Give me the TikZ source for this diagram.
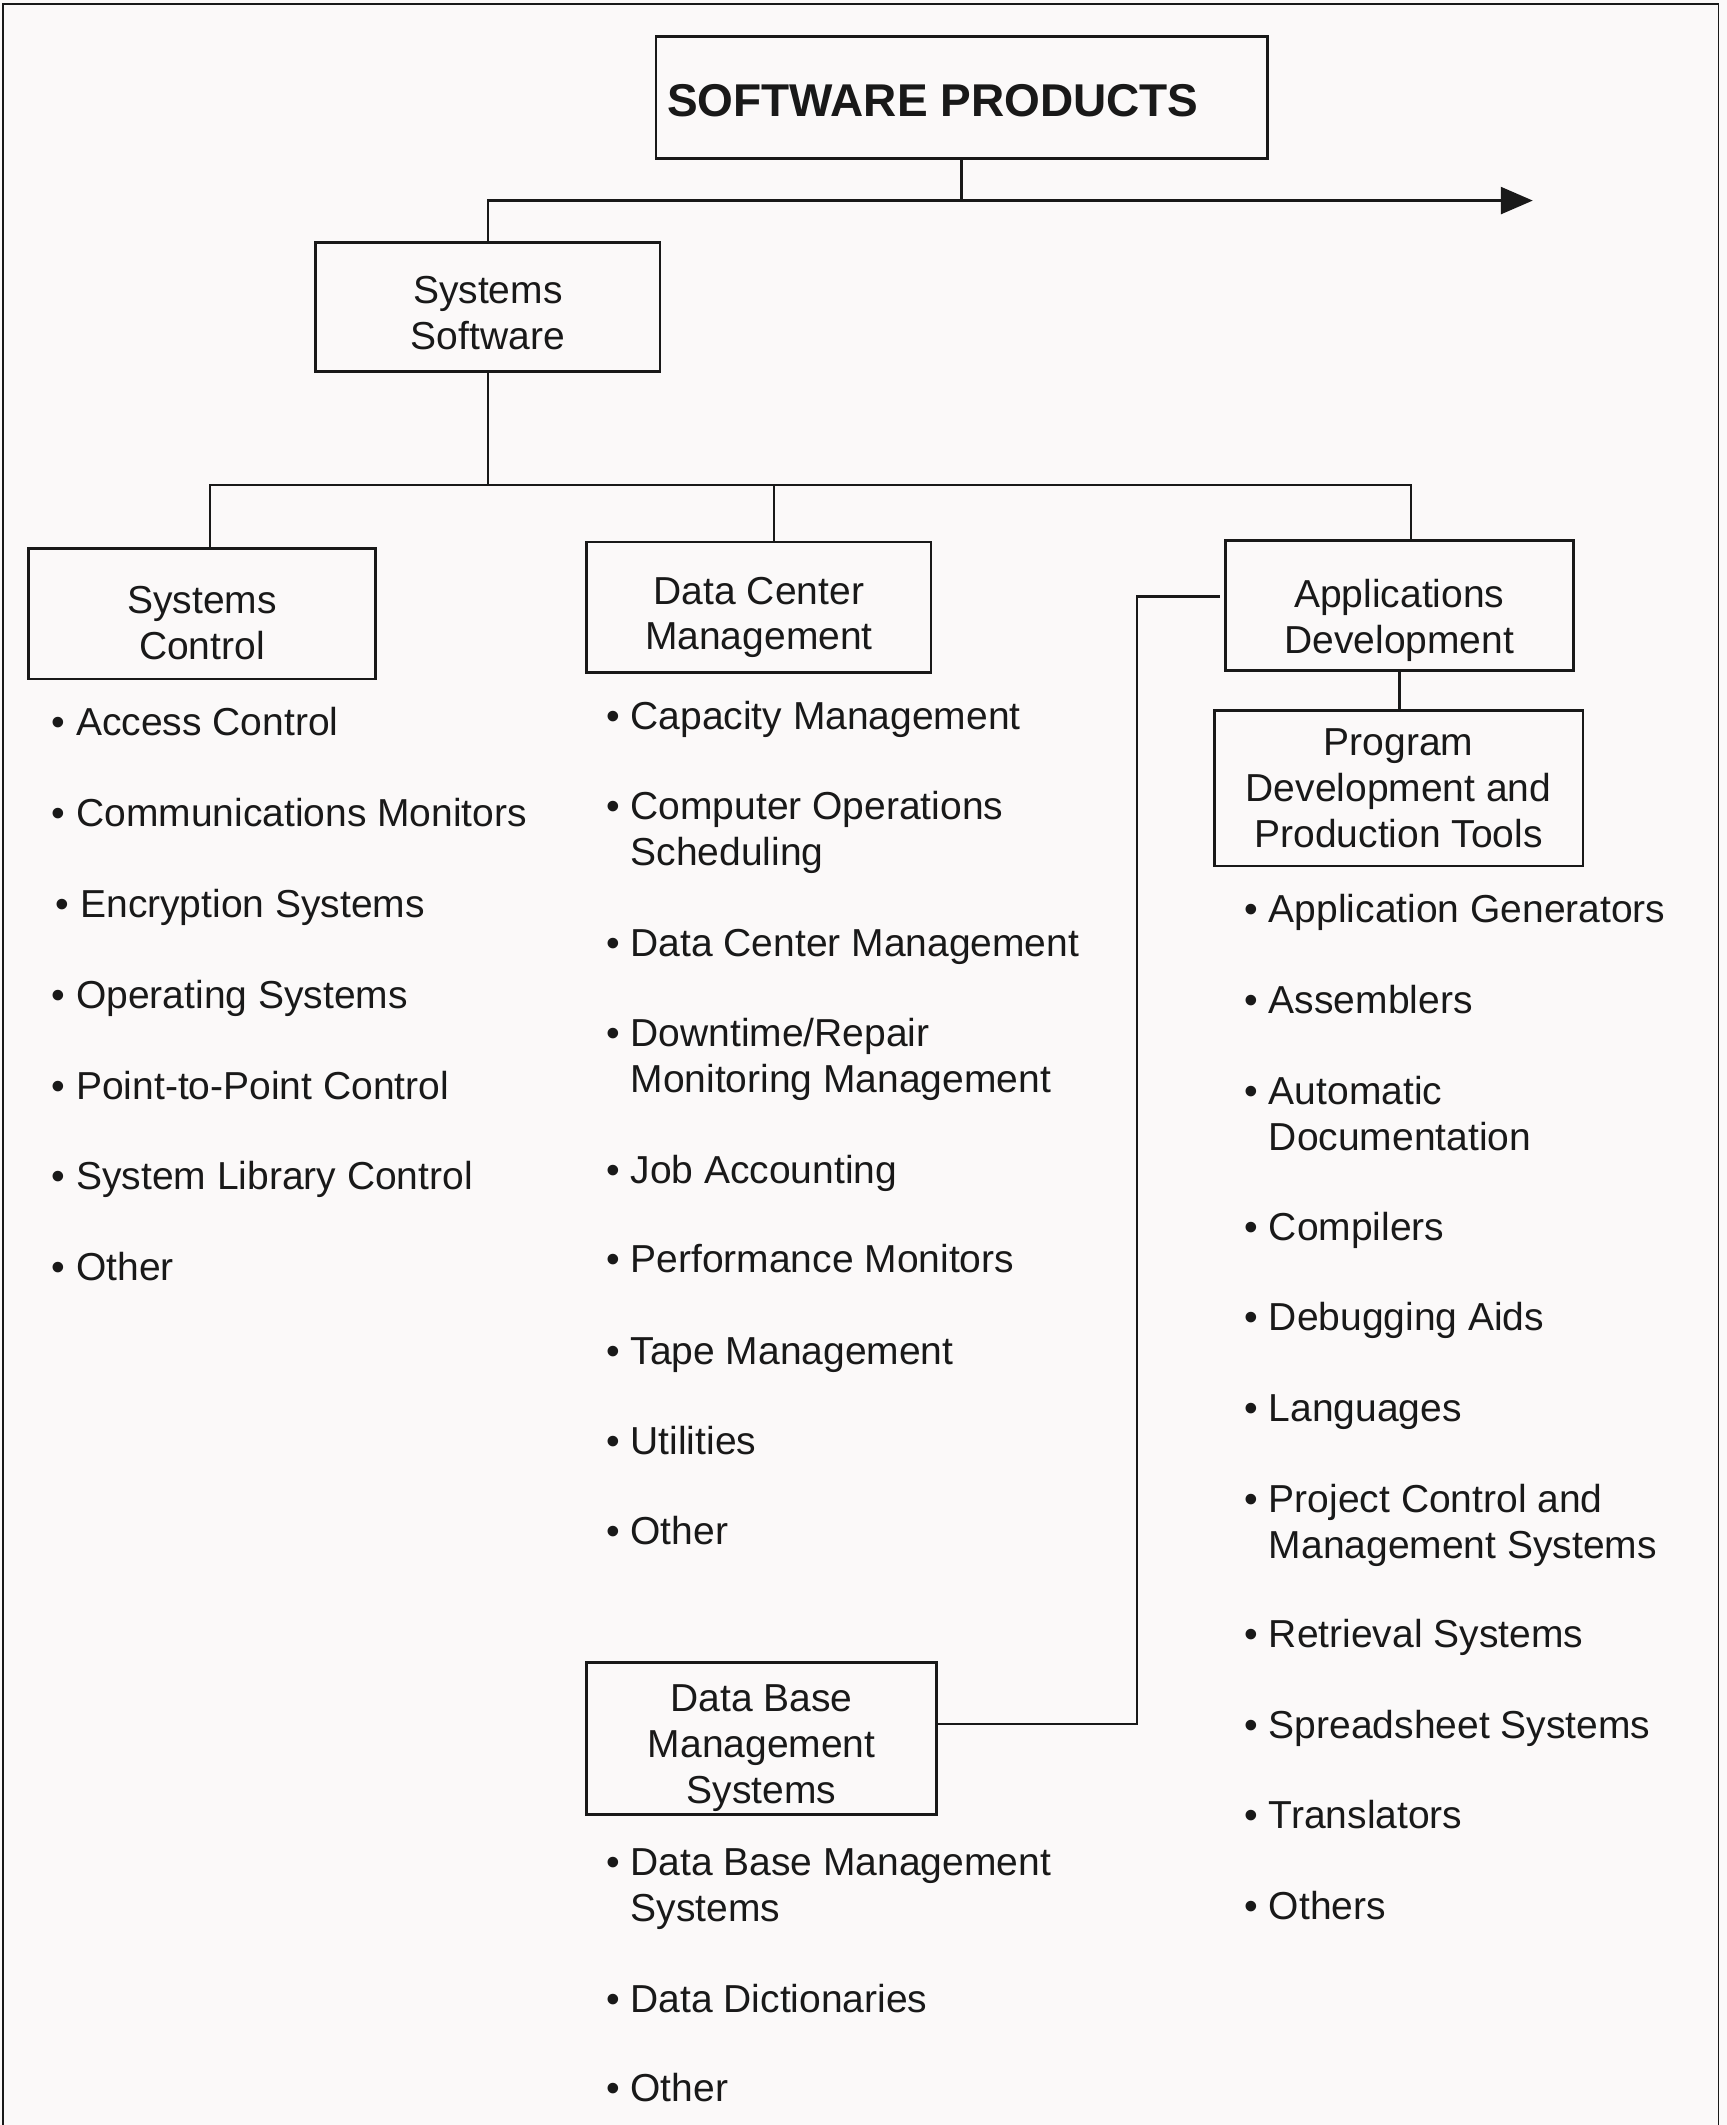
\documentclass[tikz,border=0pt]{standalone}
\usepackage{fontspec}
\setmainfont{Liberation Sans}
\usetikzlibrary{arrows.meta}
\newcommand\bitem[1]{\llap{•\ }#1}
\newcommand\bitemtwo[2]{\vtop{\hbox{\llap{•\ }#1}\hbox{#2}}}
\newcommand\tstrut[1]{\rule{0pt}{#1}}
\definecolor{paper}{RGB}{251,249,249}
\definecolor{ink}{RGB}{25,25,25}
\begin{document}
\begin{tikzpicture}[x=0.6778pt,y=-0.6778pt,
  every node/.style={text=ink},
  box/.style={draw=ink, line width=1.4pt, inner sep=0pt, align=center, font=\fontsize{19.5}{23}\selectfont},
  item/.style={anchor=base west, inner sep=0pt, font=\fontsize{19.5}{23}\selectfont},
  conn/.style={draw=ink, line width=1.3pt},
  frame/.style={draw=ink, line width=0.9pt}]
\fill[paper] (0,0) rectangle (1274,1568);
\useasboundingbox (0,0) rectangle (1274,1568);
\draw[frame] (2,1568) -- (2,3) -- (1268,3) -- (1268,1568);

% boxes
\node[box, minimum width=305.7pt, minimum height=61pt] (sp) at (709.5,72) {};
\node[anchor=base west, inner sep=0pt, font=\bfseries\fontsize{23}{27}\selectfont] (spt) at (492,86) {SOFTWARE PRODUCTS};
\node[box, minimum width=172.2pt, minimum height=64.4pt] (ss) at (360,226.5) {\tstrut{19.4pt}Systems\\Software};
\node[box, minimum width=173.5pt, minimum height=65.1pt] (sc) at (149,453) {\tstrut{22.5pt}Systems\\Control};
\node[box, minimum width=172.2pt, minimum height=65.1pt] (dcm) at (560,448) {\tstrut{23.9pt}Data Center\\Management};
\node[box, minimum width=174.2pt, minimum height=65.1pt] (ad) at (1032.5,447) {\tstrut{29pt}Applications\\Development};
\node[box, minimum width=184.4pt, minimum height=77.9pt] (pd) at (1032,581.5) {Program\\Development and\\Production Tools};
\node[box, minimum width=174.9pt, minimum height=75.9pt] (dbms) at (562,1283) {\tstrut{22.5pt}Data Base\\Management\\Systems};

% connectors
\coordinate (arr) at (1131,148);
\draw[conn] (sp.south) -- (sp.south |- arr);
\draw[conn, -{Triangle[length=16pt, width=13.5pt]}] (ss.north) |- (arr);
\coordinate (bl) at (155,358);
\coordinate (bm) at (571,358);
\coordinate (br) at (1041,358);
\draw[conn] (ss.south) -- (ss.south |- bl);
\draw[conn] (sc.north -| bl) |- (br) -- (br |- ad.north);
\draw[conn] (bm) -- (bm |- dcm.north);
\draw[conn] (ad.south) -- (ad.south |- pd.north);
\coordinate (k1) at (839,1272);
\coordinate (k2) at (839,440);
\draw[conn, shorten >=2pt] (k1 -| dbms.east) -- (k1) -- (k2) -- (k2 -| ad.west);

% column 1
\node[item] (a1) at (56,543) {\bitem{Access Control}};
\node[item] (a2) at (56,610) {\bitem{Communications Monitors}};
\node[item] (a3) at (59,677) {\bitem{Encryption Systems}};
\node[item] (a4) at (56,744) {\bitem{Operating Systems}};
\node[item] (a5) at (56,811) {\bitem{Point-to-Point Control}};
\node[item] (a6) at (56,878) {\bitem{System Library Control}};
\node[item] (a7) at (56,945) {\bitem{Other}};

% column 2
\node[item] (b1) at (465,538) {\bitem{Capacity Management}};
\node[item] (b2) at (465,605) {\bitemtwo{Computer Operations}{Scheduling}};
\node[item] (b3) at (465,706) {\bitem{Data Center Management}};
\node[item] (b4) at (465,772) {\bitemtwo{Downtime/Repair}{Monitoring Management}};
\node[item] (b5) at (465,873) {\bitem{Job Accounting}};
\node[item] (b6) at (465,939) {\bitem{Performance Monitors}};
\node[item] (b7) at (465,1007) {\bitem{Tape Management}};
\node[item] (b8) at (465,1073) {\bitem{Utilities}};
\node[item] (b9) at (465,1140) {\bitem{Other}};

% DBMS list
\node[item] (d1) at (465,1384) {\bitemtwo{Data Base Management}{Systems}};
\node[item] (d2) at (465,1485) {\bitem{Data Dictionaries}};
\node[item] (d3) at (465,1551) {\bitem{Other}};

% column 3
\node[item] (e1) at (936,681) {\bitem{Application Generators}};
\node[item] (e2) at (936,748) {\bitem{Assemblers}};
\node[item] (e3) at (936,815) {\bitemtwo{Automatic}{Documentation}};
\node[item] (e4) at (936,915) {\bitem{Compilers}};
\node[item] (e5) at (936,982) {\bitem{Debugging Aids}};
\node[item] (e6) at (936,1049) {\bitem{Languages}};
\node[item] (e7) at (936,1116) {\bitemtwo{Project Control and}{Management Systems}};
\node[item] (e8) at (936,1216) {\bitem{Retrieval Systems}};
\node[item] (e9) at (936,1283) {\bitem{Spreadsheet Systems}};
\node[item] (e10) at (936,1349) {\bitem{Translators}};
\node[item] (e11) at (936,1416) {\bitem{Others}};
\end{tikzpicture}
\end{document}
